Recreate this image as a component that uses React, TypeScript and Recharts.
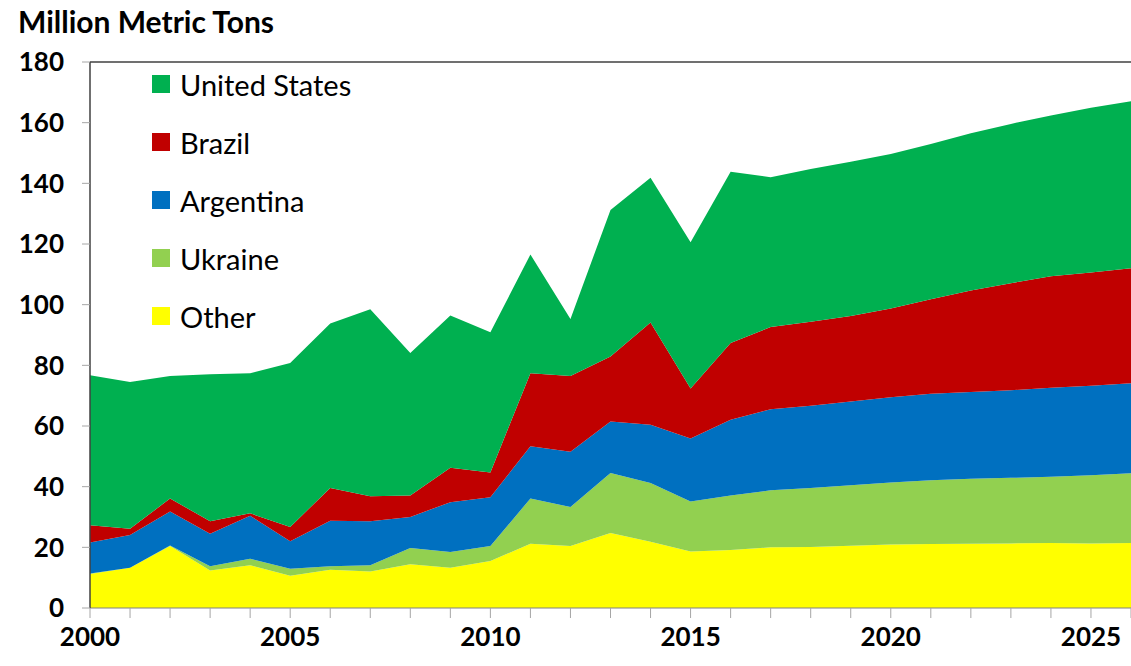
import { Area, AreaChart, ReferenceLine, XAxis, YAxis } from "recharts";

const years = [
  2000, 2001, 2002, 2003, 2004, 2005, 2006, 2007, 2008, 2009, 2010, 2011, 2012,
  2013, 2014, 2015, 2016, 2017, 2018, 2019, 2020, 2021, 2022, 2023, 2024, 2025, 2026,
];
const other = [
  11.2, 13.3, 20.4, 12.4, 14.1, 10.6, 12.6, 12.0, 14.4, 13.3, 15.5, 21.2, 20.4,
  24.7, 21.8, 18.6, 19.1, 20.0, 20.1, 20.5, 20.9, 21.1, 21.2, 21.3, 21.4, 21.3, 21.4,
];
const ukraine = [
  0.2, 0, 0.2, 1.4, 2.1, 2.3, 1.2, 2.1, 5.4, 5.2, 4.9, 14.9, 12.9,
  19.8, 19.4, 16.5, 18.0, 18.8, 19.5, 20.0, 20.5, 21.0, 21.4, 21.6, 21.9, 22.5, 23.0,
];
const argentina = [
  10.2, 10.8, 11.2, 10.7, 14.2, 9.1, 15.0, 14.5, 10.2, 16.4, 16.1, 17.2, 18.2,
  17.0, 19.2, 20.8, 25.0, 26.7, 27.1, 27.6, 28.1, 28.5, 28.6, 28.9, 29.3, 29.5, 29.7,
];
const brazil = [
  5.7, 2.0, 4.3, 4.1, 0.8, 4.7, 10.8, 8.2, 7.1, 11.3, 8.2, 24.1, 25.0,
  21.4, 33.7, 16.5, 25.3, 27.1, 27.7, 28.2, 29.2, 31.2, 33.5, 35.3, 36.8, 37.3, 37.9,
];
const unitedStates = [
  49.4, 48.4, 40.4, 48.5, 46.2, 54.1, 54.2, 61.7, 47.0, 50.2, 46.2, 39.1, 18.8,
  48.3, 47.7, 48.2, 56.4, 49.4, 50.3, 50.8, 51.0, 51.2, 51.8, 52.5, 53.0, 54.3, 55.1,
];
const yTicks = [0, 20, 40, 60, 80, 100, 120, 140, 160, 180];

const series = [
  { key: "other", name: "Other", color: "#FFFF00" },
  { key: "ukraine", name: "Ukraine", color: "#92D050" },
  { key: "argentina", name: "Argentina", color: "#0070C0" },
  { key: "brazil", name: "Brazil", color: "#C00000" },
  { key: "us", name: "United States", color: "#00B050" },
];

const data = years.map((year, i) => ({
  year,
  other: other[i],
  ukraine: ukraine[i],
  argentina: argentina[i],
  brazil: brazil[i],
  us: unitedStates[i],
}));

const font = "Lato, 'Open Sans', sans-serif";

// legend sits inside the plot, top-left; drawn as plain html over the svg
function LegendBox() {
  const items = [...series].reverse();
  return (
    <div style={{ position: "absolute", left: 152, top: 55, fontFamily: font }}>
      {items.map((s) => (
        <div key={s.key} style={{ display: "flex", alignItems: "center", height: 58 }}>
          <span style={{ width: 18, height: 18, background: s.color, marginRight: 10 }} />
          <span style={{ fontSize: 29, color: "#000" }}>{s.name}</span>
        </div>
      ))}
    </div>
  );
}

export default function App() {
  return (
    <div style={{ position: "relative", width: 1131, height: 666, background: "#fff" }}>
      <style>{"body{margin:0}"}</style>
      <div
        style={{
          position: "absolute",
          left: 18,
          top: 3,
          fontFamily: font,
          fontWeight: 700,
          fontSize: 30,
          color: "#000",
        }}
      >
        Million Metric Tons
      </div>
      <AreaChart width={1131} height={666} data={data} margin={{ top: 62, right: 0, bottom: 0, left: 0 }}>
        <XAxis
          dataKey="year"
          type="number"
          domain={[2000, 2026]}
          ticks={years}
          height={58}
          tickFormatter={(v) => (v % 5 === 0 ? String(v) : "")}
          tick={{ fontSize: 26, fontWeight: 700, fill: "#000", fontFamily: font }}
          tickSize={10}
          tickMargin={10}
          stroke="#A6A6A6"
          axisLine={{ stroke: "#808080" }}
          interval={0}
        />
        <YAxis
          domain={[0, 180]}
          ticks={yTicks}
          width={90}
          tick={{ fontSize: 26, fontWeight: 700, fill: "#000", fontFamily: font }}
          tickSize={8}
          tickMargin={18}
          stroke="#A6A6A6"
          axisLine={{ stroke: "#404040", strokeWidth: 1.5 }}
          interval={0}
        />
        {series.map((s) => (
          <Area
            key={s.key}
            type="linear"
            dataKey={s.key}
            name={s.name}
            stackId="1"
            stroke="none"
            fill={s.color}
            fillOpacity={1}
            isAnimationActive={false}
          />
        ))}
        <ReferenceLine y={180} stroke="#404040" strokeWidth={1.5} />
      </AreaChart>
      <LegendBox />
    </div>
  );
}
